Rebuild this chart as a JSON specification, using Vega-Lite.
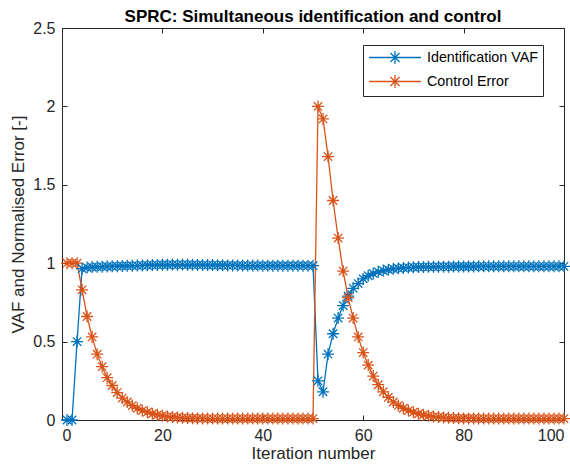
{
 "$schema": "https://vega.github.io/schema/vega-lite/v6.json",
 "width": 502, "height": 392,
 "autosize": "none",
 "padding": {"left": 62, "top": 28, "right": 6, "bottom": 47},
 "background": "white",
 "config": {
  "font": "Liberation Sans",
  "view": {"stroke": "#262626", "strokeWidth": 1},
  "axis": {"grid": false, "domainColor": "#262626", "tickColor": "#262626", "labelColor": "#262626", "titleColor": "#262626", "labelFontSize": 16, "titleFontSize": 17, "titleFontWeight": "normal", "tickSize": -5, "labelPadding": 12, "domain": true}
 },
 "title": {"text": "SPRC: Simultaneous identification and control", "fontSize": 17, "fontWeight": "bold", "color": "black", "offset": -6},
 "data": {"values": [
  {"x":1,"vaf":0,"err":1},{"x":2,"vaf":0,"err":1},{"x":3,"vaf":0.5,"err":1},{"x":4,"vaf":0.965,"err":0.83},{"x":5,"vaf":0.972,"err":0.66},
  {"x":6,"vaf":0.975,"err":0.53},{"x":7,"vaf":0.977,"err":0.42},{"x":8,"vaf":0.978,"err":0.34},{"x":9,"vaf":0.979,"err":0.27},{"x":10,"vaf":0.98,"err":0.22},
  {"x":11,"vaf":0.981,"err":0.175},{"x":12,"vaf":0.982,"err":0.14},{"x":13,"vaf":0.983,"err":0.115},{"x":14,"vaf":0.984,"err":0.092},{"x":15,"vaf":0.985,"err":0.075},
  {"x":16,"vaf":0.986,"err":0.06},{"x":17,"vaf":0.987,"err":0.05},{"x":18,"vaf":0.988,"err":0.04},{"x":19,"vaf":0.989,"err":0.033},{"x":20,"vaf":0.99,"err":0.027},
  {"x":21,"vaf":0.99,"err":0.022},{"x":22,"vaf":0.991,"err":0.019},{"x":23,"vaf":0.99,"err":0.016},{"x":24,"vaf":0.991,"err":0.014},{"x":25,"vaf":0.99,"err":0.012},
  {"x":26,"vaf":0.99,"err":0.011},{"x":27,"vaf":0.989,"err":0.01},{"x":28,"vaf":0.989,"err":0.01},{"x":29,"vaf":0.988,"err":0.009},{"x":30,"vaf":0.988,"err":0.009},
  {"x":31,"vaf":0.987,"err":0.009},{"x":32,"vaf":0.987,"err":0.009},{"x":33,"vaf":0.986,"err":0.009},{"x":34,"vaf":0.986,"err":0.009},{"x":35,"vaf":0.986,"err":0.009},
  {"x":36,"vaf":0.985,"err":0.009},{"x":37,"vaf":0.985,"err":0.009},{"x":38,"vaf":0.985,"err":0.009},{"x":39,"vaf":0.985,"err":0.009},{"x":40,"vaf":0.984,"err":0.009},
  {"x":41,"vaf":0.984,"err":0.009},{"x":42,"vaf":0.984,"err":0.009},{"x":43,"vaf":0.984,"err":0.009},{"x":44,"vaf":0.984,"err":0.009},{"x":45,"vaf":0.984,"err":0.009},
  {"x":46,"vaf":0.984,"err":0.009},{"x":47,"vaf":0.984,"err":0.009},{"x":48,"vaf":0.984,"err":0.009},{"x":49,"vaf":0.984,"err":0.009},{"x":50,"vaf":0.984,"err":0.009},
  {"x":51,"vaf":0.25,"err":2.0},{"x":52,"vaf":0.18,"err":1.92},{"x":53,"vaf":0.42,"err":1.68},{"x":54,"vaf":0.55,"err":1.4},{"x":55,"vaf":0.65,"err":1.16},
  {"x":56,"vaf":0.73,"err":0.95},{"x":57,"vaf":0.79,"err":0.78},{"x":58,"vaf":0.84,"err":0.65},{"x":59,"vaf":0.87,"err":0.53},{"x":60,"vaf":0.9,"err":0.43},
  {"x":61,"vaf":0.92,"err":0.35},{"x":62,"vaf":0.935,"err":0.28},{"x":63,"vaf":0.945,"err":0.225},{"x":64,"vaf":0.953,"err":0.18},{"x":65,"vaf":0.959,"err":0.145},
  {"x":66,"vaf":0.964,"err":0.115},{"x":67,"vaf":0.967,"err":0.093},{"x":68,"vaf":0.97,"err":0.075},{"x":69,"vaf":0.972,"err":0.06},{"x":70,"vaf":0.974,"err":0.05},
  {"x":71,"vaf":0.975,"err":0.04},{"x":72,"vaf":0.976,"err":0.033},{"x":73,"vaf":0.977,"err":0.027},{"x":74,"vaf":0.977,"err":0.022},{"x":75,"vaf":0.978,"err":0.019},
  {"x":76,"vaf":0.978,"err":0.016},{"x":77,"vaf":0.978,"err":0.014},{"x":78,"vaf":0.979,"err":0.012},{"x":79,"vaf":0.979,"err":0.011},{"x":80,"vaf":0.979,"err":0.01},
  {"x":81,"vaf":0.979,"err":0.01},{"x":82,"vaf":0.979,"err":0.01},{"x":83,"vaf":0.98,"err":0.009},{"x":84,"vaf":0.98,"err":0.009},{"x":85,"vaf":0.98,"err":0.009},
  {"x":86,"vaf":0.98,"err":0.009},{"x":87,"vaf":0.98,"err":0.009},{"x":88,"vaf":0.98,"err":0.009},{"x":89,"vaf":0.98,"err":0.009},{"x":90,"vaf":0.98,"err":0.009},
  {"x":91,"vaf":0.98,"err":0.009},{"x":92,"vaf":0.98,"err":0.009},{"x":93,"vaf":0.98,"err":0.009},{"x":94,"vaf":0.98,"err":0.009},{"x":95,"vaf":0.98,"err":0.009},
  {"x":96,"vaf":0.98,"err":0.009},{"x":97,"vaf":0.98,"err":0.009},{"x":98,"vaf":0.98,"err":0.009},{"x":99,"vaf":0.98,"err":0.009},{"x":100,"vaf":0.98,"err":0.009}
 ]},
 "transform": [{"fold": ["vaf", "err"], "as": ["series", "value"]}],
 "resolve": {"axis": {"x": "independent", "y": "independent"}},
 "layer": [
  {"mark": {"type": "line", "strokeWidth": 1.3},
   "encoding": {
    "x": {"field": "x", "type": "quantitative", "scale": {"domain": [0, 100], "nice": false}, "axis": {"orient": "bottom", "values": [0,20,40,60,80,100], "format": "d", "title": "Iteration number", "titlePadding": 2}},
    "y": {"field": "value", "type": "quantitative", "scale": {"domain": [0, 2.5], "nice": false}, "axis": {"orient": "left", "values": [0,0.5,1,1.5,2,2.5], "format": ".1~f", "title": "VAF and Normalised Error [-]", "titlePadding": 5}},
    "color": {"field": "series", "type": "nominal", "scale": {"domain": ["vaf", "err"], "range": ["#0072BD", "#D95319"]},
     "legend": {"title": null, "orient": "none", "legendX": 301, "legendY": 17, "strokeColor": "#262626", "fillColor": "white", "padding": 5, "labelFontSize": 14.3, "labelColor": "black",
      "labelExpr": "datum.value == 'vaf' ? 'Identification VAF' : 'Control Error'",
      "symbolType": "M-4,0H4M0,-1V1M-0.7,-0.7L0.7,0.7M-0.7,0.7L0.7,-0.7", "symbolSize": 169, "symbolStrokeWidth": 1.3, "symbolOffset": 19.5, "labelOffset": 24.5, "rowPadding": 5}}
   }},
  {"mark": {"type": "point", "shape": "M-1,0H1M0,-1V1M-0.7,-0.7L0.7,0.7M-0.7,0.7L0.7,-0.7", "filled": false, "strokeWidth": 1.3, "size": 144, "opacity": 1},
   "encoding": {
    "x": {"field": "x", "type": "quantitative", "scale": {"domain": [0, 100], "nice": false}, "axis": null},
    "y": {"field": "value", "type": "quantitative", "scale": {"domain": [0, 2.5], "nice": false}, "axis": null},
    "color": {"field": "series", "type": "nominal", "scale": {"domain": ["vaf", "err"], "range": ["#0072BD", "#D95319"]}}
   }},
  {"mark": {"type": "line", "opacity": 0},
   "encoding": {
    "x": {"field": "x", "type": "quantitative", "scale": {"domain": [0, 100], "nice": false}, "axis": {"orient": "top", "values": [0,20,40,60,80,100], "labels": false, "title": null, "domain": false, "labelPadding": 0, "minExtent": 0, "maxExtent": 0}},
    "y": {"field": "value", "type": "quantitative", "scale": {"domain": [0, 2.5], "nice": false}, "axis": {"orient": "right", "values": [0,0.5,1,1.5,2,2.5], "labels": false, "title": null, "domain": false, "labelPadding": 0, "minExtent": 0, "maxExtent": 0}}
   }}
 ]
}
